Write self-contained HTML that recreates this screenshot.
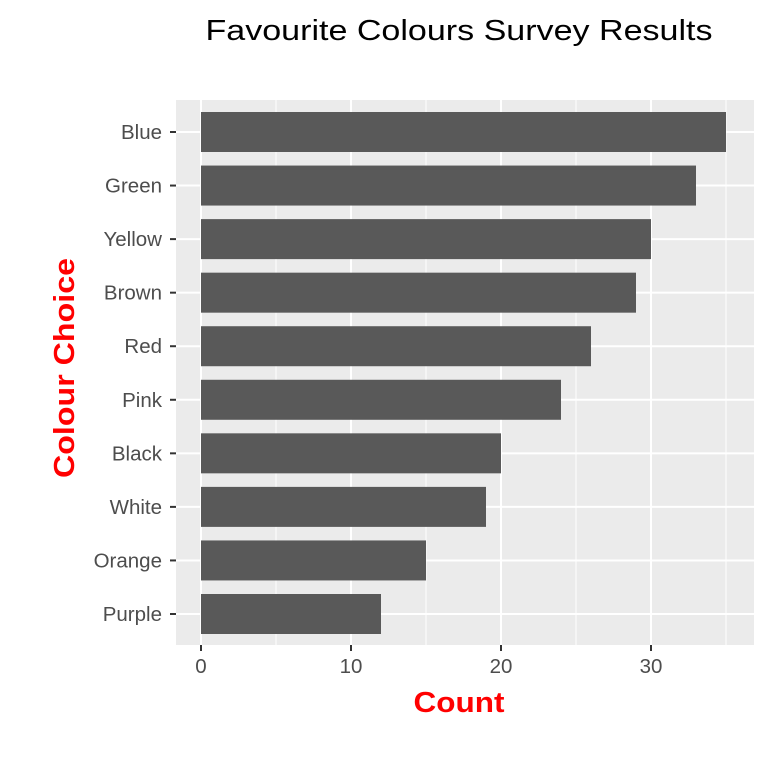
<!DOCTYPE html>
<html><head><meta charset="utf-8"><style>
body{margin:0;background:#fff}
svg{font-family:"Liberation Sans",Arial,sans-serif}
</style></head><body>
<svg width="768" height="768">
<rect width="768" height="768" fill="#fff"/>
<text x="459" y="40" font-size="29" text-anchor="middle" textLength="507" lengthAdjust="spacingAndGlyphs" fill="#000">Favourite Colours Survey Results</text>
<rect x="176" y="100" width="578" height="545" fill="#ebebeb"/>
<g id="grid"></g><g id="bars"></g><g id="yaxis"></g><g id="xaxis"></g>
<text x="459" y="712" font-size="29" font-weight="bold" fill="#ff0000" text-anchor="middle" textLength="91" lengthAdjust="spacingAndGlyphs">Count</text>
<text transform="translate(74,368) rotate(-90)" font-size="29" font-weight="bold" fill="#ff0000" text-anchor="middle" textLength="220" lengthAdjust="spacingAndGlyphs">Colour Choice</text>
</svg>
<script>
const categories=["Blue","Green","Yellow","Brown","Red","Pink","Black","White","Orange","Purple"];
const counts=[35,33,30,29,26,24,20,19,15,12];
const xTicks=[0,10,20,30];
const NS="http://www.w3.org/2000/svg";
const x0=201,xs=15,y0=132,band=(614-132)/9,bh=40;
const X=v=>x0+v*xs, Y=i=>y0+i*band;
function mk(t,a,p){const e=document.createElementNS(NS,t);for(const k in a)e.setAttribute(k,a[k]);p.appendChild(e);return e;}
const g=document.getElementById('grid'),b=document.getElementById('bars'),ya=document.getElementById('yaxis'),xa=document.getElementById('xaxis');
for(let v=5;v<=35;v+=10){const l=mk('line',{x1:X(v),x2:X(v),y1:100,y2:645,stroke:'#fff','stroke-width':1},g);

}
xTicks.forEach(v=>{const l=mk('line',{x1:X(v),x2:X(v),y1:100,y2:645,stroke:'#fff','stroke-width':2},g);


const t=mk('line',{x1:X(v),x2:X(v),y1:645,y2:651,stroke:'#333','stroke-width':2},xa);


const s=mk('text',{x:X(v),y:673,'font-size':20.5,fill:'#4d4d4d','text-anchor':'middle'},xa);s.textContent=v;

});
categories.forEach((c,i)=>{const y=Y(i);
const l=mk('line',{x1:176,x2:754,y1:y,y2:y,stroke:'#fff','stroke-width':2},g);


const r=mk('rect',{x:X(0),y:y-bh/2,width:X(counts[i])-X(0),height:bh,fill:'#595959'},b);


const t=mk('line',{x1:170,x2:176,y1:y,y2:y,stroke:'#333','stroke-width':2},ya);


const s=mk('text',{x:162,y:y+7,'font-size':20.5,fill:'#4d4d4d','text-anchor':'end'},ya);s.textContent=c;

});
</script>
</body></html>
